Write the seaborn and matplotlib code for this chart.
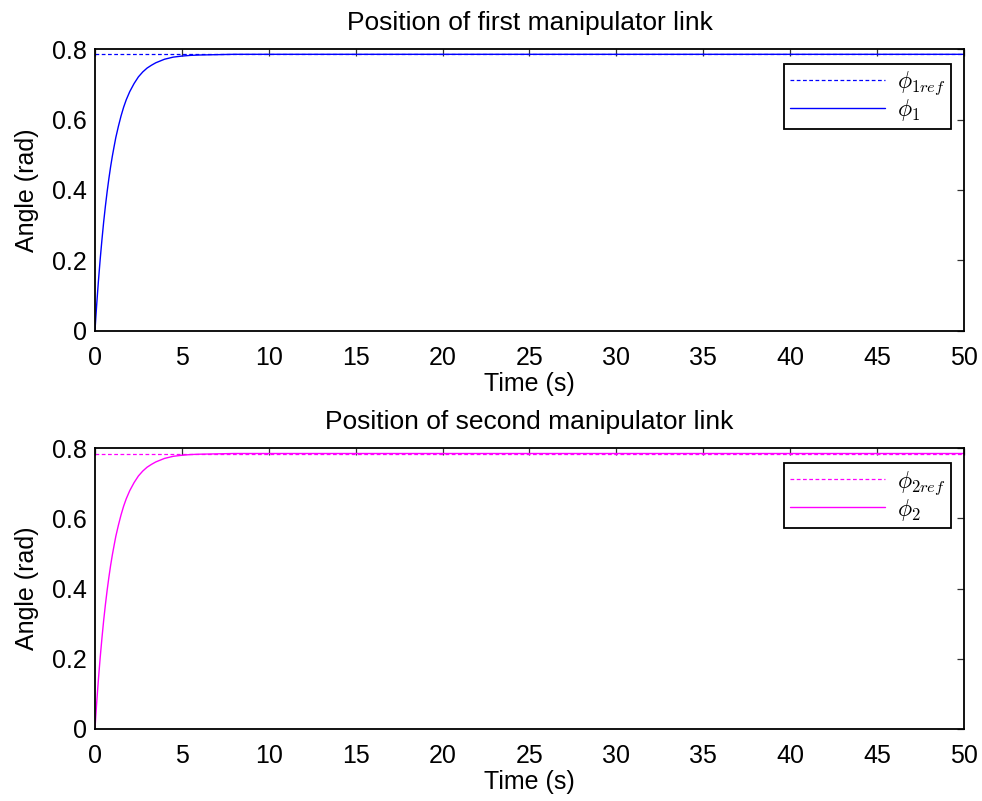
import numpy as np
import pandas as pd
import matplotlib
matplotlib.use("Agg")
import matplotlib.pyplot as plt
import seaborn as sns

# Data
time_s = [0, 0.05, 0.1, 0.15, 0.2, 0.3, 0.4, 0.5, 0.6, 0.7, 0.8, 0.9, 1.0, 1.1, 1.2, 1.35, 1.5, 1.65, 1.8, 2.0,
          2.25, 2.5, 2.75, 3.0, 3.25, 3.5, 3.75, 4.0, 4.5, 5.0, 5.5, 6.0, 7.0, 8.0, 10.0, 20.0, 30.0, 40.0, 50.0]
phi1 = [0, 0.038, 0.075, 0.109, 0.142, 0.203, 0.258, 0.309, 0.354, 0.395, 0.432, 0.466, 0.496, 0.523, 0.549,
        0.581, 0.610, 0.635, 0.656, 0.679, 0.702, 0.721, 0.735, 0.746, 0.754, 0.761, 0.766, 0.771, 0.777,
        0.780, 0.782, 0.783, 0.784, 0.785, 0.785, 0.785, 0.785, 0.785, 0.785]
phi2 = [0, 0.038, 0.075, 0.109, 0.142, 0.203, 0.258, 0.309, 0.354, 0.395, 0.432, 0.466, 0.496, 0.523, 0.549,
        0.581, 0.610, 0.635, 0.656, 0.679, 0.702, 0.721, 0.735, 0.746, 0.754, 0.761, 0.766, 0.771, 0.777,
        0.780, 0.782, 0.783, 0.784, 0.785, 0.785, 0.785, 0.785, 0.785, 0.785]
ref_time = [0, 50]
phi1_ref = [0.785, 0.785]
phi2_ref = [0.785, 0.785]

titles = ["Position of first manipulator link", "Position of second manipulator link"]
labels = [(r"$\phi_{1ref}$", r"$\phi_1$"), (r"$\phi_{2ref}$", r"$\phi_2$")]
colors = ["#0000ff", "#ff00ff"]
xticks = [0, 5, 10, 15, 20, 25, 30, 35, 40, 45, 50]
yticks = [0, 0.2, 0.4, 0.6, 0.8]

sns.set_style("white")
plt.rcParams["font.family"] = ["Liberation Sans", "DejaVu Sans"]
plt.rcParams["mathtext.fontset"] = "cm"
plt.rcParams["xtick.direction"] = "in"
plt.rcParams["ytick.direction"] = "in"
plt.rcParams["text.color"] = "black"
plt.rcParams["axes.labelcolor"] = "black"

fig = plt.figure(figsize=(9.82, 8.01), dpi=100)
axes = [fig.add_axes([0.0967, 0.5868, 0.885, 0.352]),
        fig.add_axes([0.0967, 0.0899, 0.885, 0.3505])]

series = [(phi1_ref, phi1), (phi2_ref, phi2)]
for ax, (ref, val), title, (lr, lv), c in zip(axes, series, titles, labels, colors):
    sns.lineplot(x=ref_time, y=ref, ax=ax, color=c, linestyle=(0, (3, 2)), linewidth=0.9, label=lr)
    sns.lineplot(x=time_s, y=val, ax=ax, color=c, linewidth=1.0, label=lv)
    ax.set_xlim(0, 50)
    ax.set_ylim(0, 0.8)
    ax.set_xticks(xticks)
    ax.set_xticklabels([str(t) for t in xticks])
    ax.set_yticks(yticks)
    ax.set_yticklabels(["0", "0.2", "0.4", "0.6", "0.8"])
    ax.tick_params(axis="both", which="both", labelsize=18, top=True, right=True,
                   length=5, width=0.9, color="#333333", pad=6, labelcolor="black")
    ax.tick_params(axis="x", pad=11)
    ax.set_xlabel("Time (s)", fontsize=18, labelpad=1)
    ax.set_ylabel("Angle (rad)", fontsize=18, labelpad=9)
    ax.set_title(title, fontsize=19, pad=14)
    for s in ax.spines.values():
        s.set_color("black")
        s.set_linewidth(1.3)
    leg = ax.legend(loc="upper right", bbox_to_anchor=(0.985, 0.947), fontsize=17, frameon=True,
                    fancybox=False, edgecolor="black", framealpha=1.0, borderaxespad=0.0,
                    handlelength=4.0, handletextpad=0.5, borderpad=0.25, labelspacing=0.0)
    leg.get_frame().set_linewidth(1.3)

fig.savefig("out.png", dpi=100)
